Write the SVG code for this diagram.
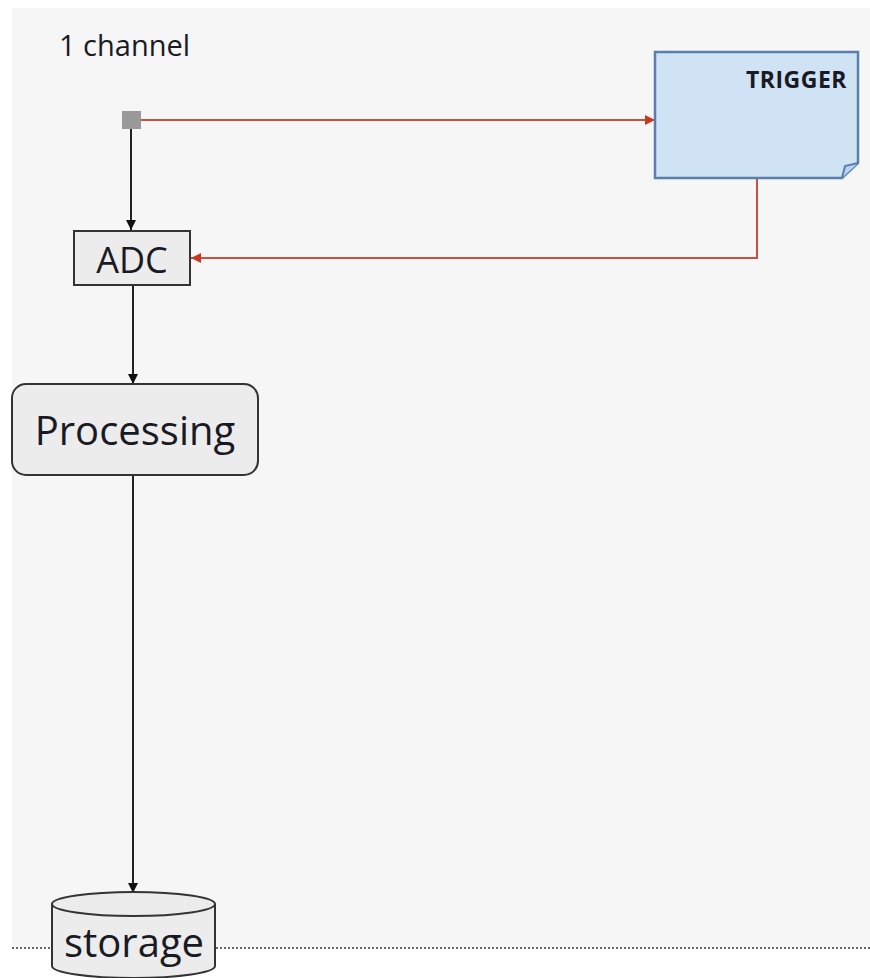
<svg xmlns="http://www.w3.org/2000/svg" width="870" height="978" viewBox="0 0 870 978">
  <defs>
    <marker id="arrowBlack" viewBox="0 0 10 10" refX="10" refY="5" markerWidth="10" markerHeight="11" markerUnits="userSpaceOnUse" orient="auto">
      <path d="M0,0 L10,5 L0,10 z" fill="#111"/>
    </marker>
    <marker id="arrowRed" viewBox="0 0 10 10" refX="10" refY="5" markerWidth="11" markerHeight="10" markerUnits="userSpaceOnUse" orient="auto">
      <path d="M0,0 L10,5 L0,10 z" fill="#c8381e"/>
    </marker>
    <style>
      .lbl { font-family: "Open Sans", "Noto Sans", "Liberation Sans", sans-serif; fill: #1a1a24; }
      .flow { stroke: #222; stroke-width: 2; fill: none; }
      .trig { stroke: #c8503c; stroke-width: 2; fill: none; }
      .box { fill: #ececec; stroke: #333; stroke-width: 2; }
    </style>
  </defs>

  <!-- panel background and baseline -->
  <rect x="0" y="0" width="870" height="978" fill="#ffffff"/>
  <rect x="12" y="8" width="858" height="940" fill="#f6f6f6"/>
  <line x1="12" y1="948" x2="870" y2="948" stroke="#666" stroke-width="2" stroke-dasharray="2,2"/>

  <text class="lbl" x="59" y="56" font-size="29">1 channel</text>

  <!-- connectors -->
  <g id="connectors">
    <line class="flow" x1="131" y1="129" x2="131" y2="230" marker-end="url(#arrowBlack)"/>
    <line class="flow" x1="133" y1="285" x2="133" y2="384" marker-end="url(#arrowBlack)"/>
    <line class="flow" x1="133" y1="475" x2="133" y2="893" marker-end="url(#arrowBlack)"/>
    <line class="trig" x1="141" y1="120" x2="655" y2="120" marker-end="url(#arrowRed)"/>
    <polyline class="trig" points="757,179 757,258 191,258" marker-end="url(#arrowRed)"/>
  </g>

  <!-- channel input -->
  <g id="channel">
    <rect x="122" y="111" width="19" height="18" fill="#999"/>
  </g>

  <g id="trigger">
    <path d="M655,52 H858 V163 L842,178 H655 Z" fill="#cfe3f5" stroke="#5a7fae" stroke-width="2.5"/>
    <path d="M842,178 L845,166 L858,163" fill="#b9d3ee" stroke="#5a7fae" stroke-width="2"/>
    <text class="lbl" x="847" y="88" font-size="23" font-weight="bold" letter-spacing="0.5" text-anchor="end">TRIGGER</text>
  </g>

  <g id="adc">
    <rect class="box" x="74" y="231" width="116" height="54"/>
    <text class="lbl" x="132" y="273" font-size="36" text-anchor="middle">ADC</text>
  </g>

  <g id="processing">
    <rect class="box" x="12" y="384" width="246" height="91" rx="14"/>
    <text class="lbl" x="135" y="445" font-size="40" text-anchor="middle">Processing</text>
  </g>

  <g id="storage">
    <path class="box" d="M52,904 V966 A81.5,12 0 0 0 215,966 V904"/>
    <ellipse class="box" cx="133.5" cy="904" rx="81.5" ry="12"/>
    <text class="lbl" x="134" y="957" font-size="40" text-anchor="middle">storage</text>
  </g>
</svg>
